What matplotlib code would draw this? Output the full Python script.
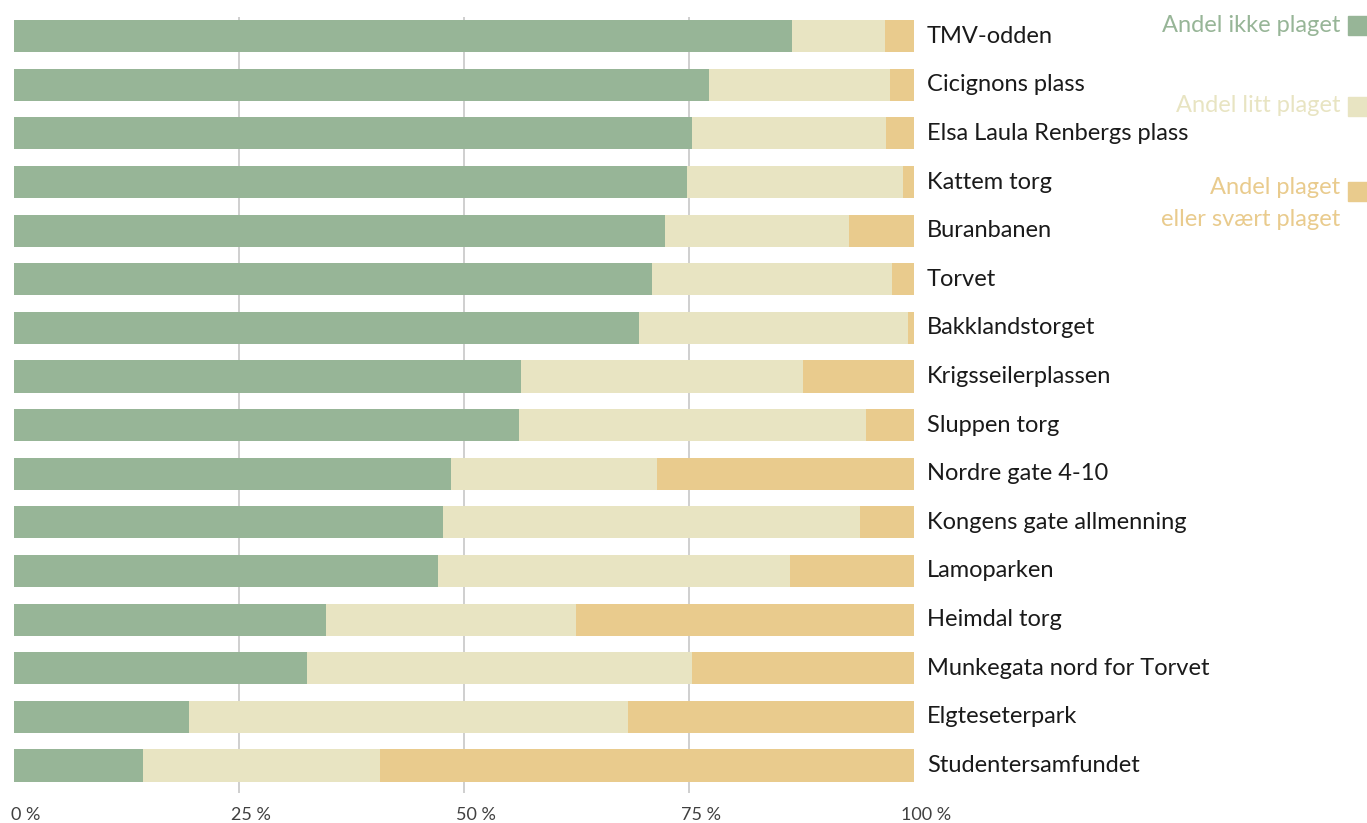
import numpy as np
import matplotlib.pyplot as plt
import matplotlib.transforms as mtransforms
from matplotlib.patches import Rectangle

# Data (andel i prosent, lest av figuren)
steder = ['TMV-odden', 'Cicignons plass', 'Elsa Laula Renbergs plass', 'Kattem torg',
          'Buranbanen', 'Torvet', 'Bakklandstorget', 'Krigsseilerplassen',
          'Sluppen torg', 'Nordre gate 4-10', 'Kongens gate allmenning', 'Lamoparken',
          'Heimdal torg', 'Munkegata nord for Torvet', 'Elgteseterpark', 'Studentersamfundet']
ikke_plaget = [86.4, 77.2, 75.3, 74.7, 72.3, 70.9, 69.4, 56.3,
               56.1, 48.5, 47.7, 47.1, 34.6, 32.6, 19.4, 14.3]
litt_plaget = [10.3, 20.1, 21.6, 24.0, 20.4, 26.6, 29.9, 31.3,
               38.5, 22.9, 46.3, 39.1, 27.8, 42.7, 48.8, 26.4]
plaget = [3.3, 2.7, 3.1, 1.3, 7.3, 2.5, 0.7, 12.4,
          5.4, 28.6, 6.0, 13.8, 37.6, 24.7, 31.8, 59.3]
xticks = [0, 25, 50, 75, 100]
xtick_labels = ['0 %', '25 %', '50 %', '75 %', '100 %']

c_ikke = '#97b597'
c_litt = '#e8e4c2'
c_plaget = '#e9cb8d'

plt.rcParams['font.family'] = ['Lato', 'DejaVu Sans']

fig = plt.figure(figsize=(13.67, 8.23), dpi=100)
ax = fig.add_axes([0.01024, 0.0368, 0.6586, 0.9429])

y = np.arange(len(steder))
a = np.array(ikke_plaget)
b = np.array(litt_plaget)
c = np.array(plaget)
ax.barh(y, a, height=0.66, color=c_ikke, zorder=2)
ax.barh(y, b, left=a, height=0.66, color=c_litt, zorder=2)
ax.barh(y, c, left=a + b, height=0.66, color=c_plaget, zorder=2)

for xv in [25, 50, 75]:
    ax.axvline(xv, color='#cccccc', lw=1.3, zorder=1)

ax.set_xlim(0, 100)
ax.set_ylim(15.56, -0.4)
ax.set_xticks(xticks)
ax.set_xticklabels(xtick_labels, fontsize=13, color='#404040')
ax.tick_params(axis='x', length=0, pad=10)
offset = mtransforms.ScaledTranslation(12 / 100, 0, fig.dpi_scale_trans)
for lab in ax.get_xticklabels():
    lab.set_transform(lab.get_transform() + offset)

ax.yaxis.tick_right()
ax.set_yticks(y)
ax.set_yticklabels(steder, fontsize=17, color='#1a1a1a')
ax.tick_params(axis='y', length=0, pad=9)
up = mtransforms.ScaledTranslation(0, 2 / 100, fig.dpi_scale_trans)
for lab in ax.get_yticklabels():
    lab.set_transform(lab.get_transform() + up)
for s in ax.spines.values():
    s.set_visible(False)

# Forklaring oppe til høyre
W, H = 1367, 823
def px(xp, yp):
    return xp / W, 1 - yp / H

legend = [(['Andel ikke plaget'], c_ikke, 25, 16),
          (['Andel litt plaget'], c_litt, 105, 97),
          (['Andel plaget', 'eller svært plaget'], c_plaget, 188, 182)]
for lines, col, ty, sy in legend:
    for k, txt in enumerate(lines):
        fig.text(*px(1340, ty + 31 * k), txt, ha='right', va='center',
                 fontsize=17, color=col)
    fig.add_artist(Rectangle(px(1348, sy + 19), 19 / W, 19 / H,
                             transform=fig.transFigure, color=col))

fig.savefig('out.png', dpi=100)
